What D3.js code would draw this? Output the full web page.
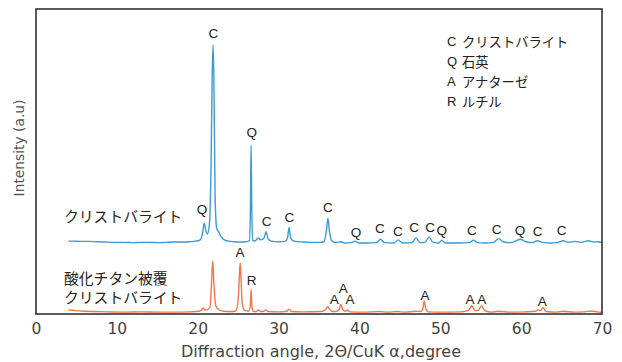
<!DOCTYPE html>
<html>
<head>
<meta charset="utf-8">
<script src="https://cdn.jsdelivr.net/npm/d3@7"></script>
<style>
  html, body { margin: 0; padding: 0; background: #fff; }
  svg { display: block; }
  .lat { font-family: "Liberation Sans", Arial, sans-serif; }
  .wide { font-family: "DejaVu Sans", sans-serif; }
  .jp { font-family: "Noto Sans CJK JP", sans-serif; }
</style>
</head>
<body>
<svg id="chart" width="622" height="362"></svg>
<script>
// XRD patterns: 2θ (degree) and relative intensity above each trace's own baseline
const cristobaliteTheta = [4.0, 4.5, 5.5, 6.5, 7.5, 8.5, 10, 11, 12, 13, 14, 15, 16, 17, 18, 19, 19.8, 20.3, 20.6, 20.8, 21.0, 21.2, 21.45, 21.65, 21.8, 21.9, 22.0, 22.15, 22.35, 22.6, 22.9, 23.3, 23.8, 24.5, 25.2, 26.0, 26.4, 26.52, 26.6, 26.68, 26.8, 27.1, 27.5, 27.8, 28.2, 28.45, 28.7, 29.1, 30.0, 30.8, 31.1, 31.3, 31.5, 31.9, 33, 34, 35, 35.6, 35.9, 36.1, 36.3, 36.6, 37.1, 37.7, 38.2, 39.0, 39.45, 39.9, 41.0, 42.1, 42.6, 43.1, 44.3, 44.8, 45.3, 46.5, 47.0, 47.5, 48.1, 48.6, 49.1, 49.8, 50.2, 50.6, 51.5, 52.5, 53.6, 54.1, 54.6, 55.5, 56.6, 57.2, 57.8, 58.8, 59.9, 60.6, 61.4, 62.0, 62.6, 63.5, 64.5, 65.2, 65.9, 66.7, 67.4, 68.3, 69.0, 69.5, 70.0];
const cristobaliteI = [4, 4, 3, 3, 2, 1, 0, 0, -1, 0, 0, -1, 0, 1, 1, 2, 4, 8, 30, 63, 40, 27, 60, 250, 560, 647, 540, 150, 45, 34, 18, 8, 4, 2, 1, 2, 6, 120, 319, 120, 6, 5, 14, 8, 14, 35, 12, 4, 2, 3, 14, 49, 14, 4, 1, 0, 0, 2, 35, 79, 35, 4, -1, 2, -2, -1, 4, -2, -2, -1, 10, -1, -2, 8, -2, -1, 14, -1, 0, 17, 0, -2, 7, -2, -2, -2, -1, 7, -1, -2, 0, 12, 1, -1, 10, 2, -1, 5, 0, -2, -1, 5, 0, 3, 0, 5, 1, 2, -1];

const coatedTheta = [4.0, 4.8, 6.0, 7.5, 9, 11, 13, 15, 17, 19, 20.2, 20.5, 20.7, 20.95, 21.5, 21.7, 21.85, 22.0, 22.25, 22.6, 23.2, 24.0, 24.7, 25.0, 25.15, 25.25, 25.35, 25.5, 25.8, 26.3, 26.5, 26.6, 26.7, 26.9, 27.3, 27.5, 27.8, 28.2, 28.4, 28.7, 30.0, 31.0, 31.3, 31.6, 33, 35.2, 35.8, 36.07, 36.35, 36.7, 36.9, 37.2, 37.5, 37.7, 37.95, 38.3, 38.5, 38.8, 40.5, 42.5, 43.5, 44.6, 45.7, 46.9, 47.6, 47.85, 48.0, 48.2, 48.5, 50.5, 52.5, 53.5, 53.9, 54.3, 54.7, 55.1, 55.5, 56.3, 57.2, 58.5, 60.5, 61.8, 62.1, 62.4, 62.7, 63.1, 64.3, 65.2, 66.5, 67.8, 68.7, 69.4, 70.0];
const coatedI = [7, 5, 3, 2, 1, 0, 1, 0, 0, 1, 3, 8, 13, 6, 14, 90, 168, 95, 20, 8, 3, 2, 4, 40, 120, 161, 115, 30, 6, 4, 20, 75, 20, 2, 3, 7, 2, 3, 7, 2, 1, 3, 10, 2, 1, 2, 8, 18, 8, 2, 2, 3, 9, 26, 8, 3, 7.5, 1, 0, 2, 0, 2, 0, 3, 2, 12, 37, 12, 1, 0, 1, 6, 21, 5, 6, 21, 5, 0, 3, 0, 1, 3, 7.5, 5, 15, 2, 0, 3, 0, 1, 4, 1, -1];

// Peak labels: phase letter, 2θ, label height on the intensity axis
const topLabels = [
  ["C", 21.93, 920], ["Q", 26.68, 594], ["Q", 20.53, 343], ["C", 28.53, 303],
  ["C", 31.33, 317], ["C", 36.11, 349], ["Q", 39.57, 266], ["C", 42.54, 279],
  ["C", 44.77, 272], ["C", 46.75, 283], ["C", 48.73, 283], ["Q", 50.17, 273],
  ["C", 53.92, 273], ["C", 56.97, 278], ["Q", 59.86, 275], ["C", 62.05, 270],
  ["C", 65.01, 275]
];
const bottomLabels = [
  ["A", 25.23, 201], ["R", 26.68, 109], ["A", 36.89, 49], ["A", 38.0, 84],
  ["A", 38.83, 49], ["A", 48.11, 62], ["A", 53.67, 49], ["A", 55.12, 49],
  ["A", 62.61, 40]
];

const legendCodes = ["C", "Q", "A", "R"];
const legendNames = ["クリストバライト", "石英", "アナターゼ", "ルチル"];
const xTicks = [0, 10, 20, 30, 40, 50, 60, 70];

const topOffset = 235;   // vertical shift of the upper trace
const bottomOffset = 6;  // vertical shift of the lower trace

const blue = "#3b9bd2";
const orange = "#f27649";
const ink = "#333";

const svg = d3.select("#chart");
const plot = { left: 36, right: 602, top: 9, bottom: 314 };

const x = d3.scaleLinear().domain([0, 70]).range([plot.left, plot.right]);
const y = d3.scaleLinear().domain([0, 1000]).range([plot.bottom, plot.top]);

const line = d3.line()
  .x(d => x(d[0]))
  .y(d => y(d[1]))
  .curve(d3.curveMonotoneX);

const topSeries = d3.zip(cristobaliteTheta, cristobaliteI).map(d => [d[0], d[1] + topOffset]);
const bottomSeries = d3.zip(coatedTheta, coatedI).map(d => [d[0], d[1] + bottomOffset]);

svg.append("path").datum(topSeries)
  .attr("d", line).attr("fill", "none")
  .attr("stroke", blue).attr("stroke-width", 1.4).attr("stroke-linejoin", "round");

svg.append("path").datum(bottomSeries)
  .attr("d", line).attr("fill", "none")
  .attr("stroke", orange).attr("stroke-width", 1.4).attr("stroke-linejoin", "round");

// frame
svg.append("rect")
  .attr("x", plot.left).attr("y", plot.top)
  .attr("width", plot.right - plot.left).attr("height", plot.bottom - plot.top)
  .attr("fill", "none").attr("stroke", ink).attr("stroke-width", 1.6);

// x axis: labels only
const xAxis = d3.axisBottom(x).tickValues(xTicks).tickSize(0).tickPadding(9).tickFormat(d3.format("d"));
const gx = svg.append("g").attr("transform", `translate(0,${plot.bottom})`).call(xAxis);
gx.select(".domain").remove();
gx.selectAll("text")
  .attr("class", "wide")
  .style("font-size", "15.5px").attr("fill", "#444");

svg.append("text").attr("class", "wide")
  .attr("x", 321).attr("y", 357)
  .attr("text-anchor", "middle").attr("fill", "#444")
  .style("font-size", "16px")
  .text("Diffraction angle, 2Θ/CuK α,degree");

svg.append("text").attr("class", "wide")
  .attr("transform", "translate(24,148) rotate(-90)")
  .attr("text-anchor", "middle").attr("fill", "#555")
  .style("font-size", "13.8px")
  .text("Intensity (a.u)");

// peak labels
function drawLabels(list) {
  svg.append("g").selectAll("text").data(list).join("text")
    .attr("class", "lat")
    .attr("x", d => x(d[1])).attr("y", d => y(d[2]))
    .attr("text-anchor", "middle").attr("dominant-baseline", "central")
    .attr("fill", "#222").style("font-size", "13.5px")
    .text(d => d[0]);
}
drawLabels(topLabels);
drawLabels(bottomLabels);

// trace names
const names = svg.append("g").attr("class", "jp").attr("fill", "#222").style("font-size", "14.8px");
names.append("text").attr("x", 64).attr("y", 215).attr("dominant-baseline", "central").text("クリストバライト");
names.append("text").attr("x", 64).attr("y", 277.5).attr("dominant-baseline", "central").text("酸化チタン被覆");
names.append("text").attr("x", 64).attr("y", 296.5).attr("dominant-baseline", "central").text("クリストバライト");

// legend
const legend = svg.append("g").attr("fill", "#222");
legendCodes.forEach((c, i) => {
  const yy = 41 + i * 20.3;
  legend.append("text").attr("class", "lat").attr("x", 447).attr("y", yy)
    .attr("dominant-baseline", "central").style("font-size", "13px").text(c);
  legend.append("text").attr("class", "jp").attr("x", 462).attr("y", yy)
    .attr("dominant-baseline", "central").style("font-size", "13.3px").text(legendNames[i]);
});
</script>
</body>
</html>
